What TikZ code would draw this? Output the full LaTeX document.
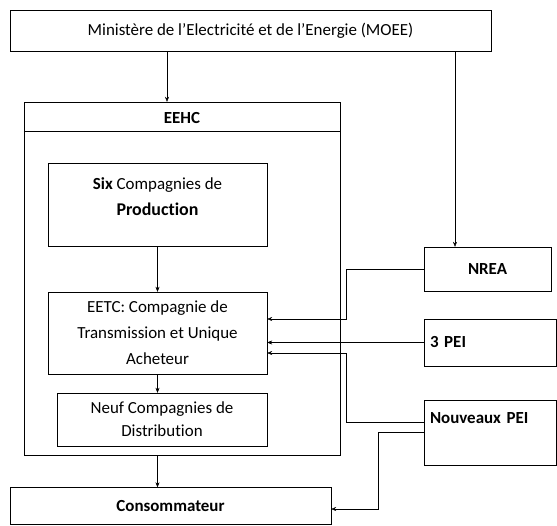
\documentclass[tikz,border=0pt]{standalone}
\usepackage{fontspec}
\setmainfont{Carlito}[Ligatures=NoCommon]
\usetikzlibrary{positioning, calc, arrows.meta}

\begin{document}
\begin{tikzpicture}[x=1bp,y=-1bp,font=\fontsize{17}{26}\selectfont,>={Stealth[length=5bp,width=4bp]}]
\tikzset{box/.style={draw,thin,rectangle,inner sep=0pt,align=center}}
\tikzset{link/.style={->,thin}}
\tikzset{head/.style={font=\fontsize{17}{20}\selectfont\bfseries}}
\useasboundingbox (0,0) rectangle (557,526);
  \node[box, minimum width=481bp, minimum height=41bp] (MOEE) at (250.5,30.5) {Ministère de l’Electricité et de l’Energie (MOEE)};
  \node[box, minimum width=316bp, minimum height=353bp] (EEHC) at (182,278.5) {};
  \node[head] (EEHCtitle) at (182,118) {EEHC};
  \coordinate (hdr) at (0,131);
  \draw[thin] (EEHC.west |- hdr) -- (EEHC.east |- hdr);
  \node[box, minimum width=219bp, minimum height=83bp] (Six) at (157.5,204.5) {{\bfseries Six} Compagnies de\\{\bfseries\fontsize{18}{28}\selectfont Production}\\[-10pt]\mbox{}};
  \node[box, minimum width=219bp, minimum height=82bp] (EETC) at (157.5,333) {EETC: Compagnie de\\Transmission et Unique\\Acheteur};
  \node[box, minimum width=210bp, minimum height=53bp, font=\fontsize{17}{23}\selectfont] (Neuf) at (162,419.5) {Neuf Compagnies de\\Distribution};
  \node[box, head, minimum width=321bp, minimum height=37bp] (Conso) at (170.5,506) {Consommateur};
  \node[box, head, minimum width=127bp, minimum height=44bp] (NREA) at (487.5,269) {NREA};
  \node[box, head, minimum width=132bp, minimum height=47bp, text width=120bp, align=left] (PEI) at (490,342.5) {3 PEI};
  \node[box, head, minimum width=132bp, minimum height=65bp, text width=120bp, align=left, font=\fontsize{17}{30}\selectfont\bfseries] (NPEI) at (490,432.5) {Nouveaux PEI\\\mbox{}};
% connectors
  \coordinate (m1) at ($(EEHC.north)+(-15,0)$);
  \coordinate (m2) at ($(NREA.north)+(-32.5,0)$);
  \draw[link] (MOEE.south -| m1) -- (m1);
  \draw[link] (MOEE.south -| m2) -- (m2);
  \draw[link] (Six.south) -- (EETC.north);
  \draw[link] (EETC.south) -- (EETC.south |- Neuf.north);
  \draw[link] (EEHC.south -| EETC.south) -- (Conso.north -| EETC.south);
  \coordinate (n1) at (346,0);
  \coordinate (n2) at (378,0);
  \coordinate (e1) at ($(EETC.east)+(0,-14)$);
  \coordinate (e2) at ($(EETC.east)+(0,20)$);
  \coordinate (p1) at ($(NPEI.west)+(0,-10.5)$);
  \coordinate (c1) at ($(Conso.east)+(0,3)$);
  \draw[link] (NREA.west) -| (n1 |- e1) -- (e1);
  \draw[link] (PEI.west) -- (EETC.east |- PEI.west);
  \draw[link] (p1) -| (n1 |- e2) -- (e2);
  \draw[link] (NPEI.west) -| (n2 |- c1) -- (c1);
\end{tikzpicture}
\end{document}
